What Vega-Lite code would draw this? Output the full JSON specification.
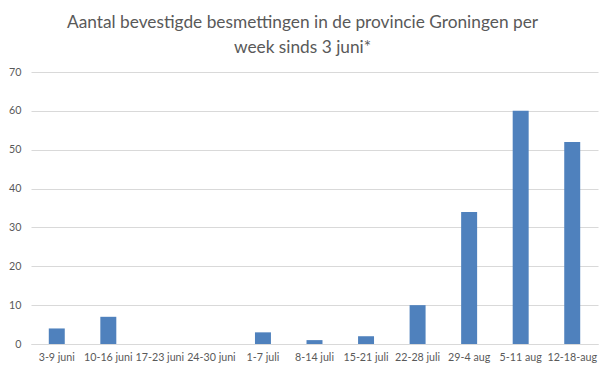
{
  "$schema": "https://vega.github.io/schema/vega-lite/v6.json",
  "width": 567,
  "height": 272,
  "autosize": "none",
  "padding": {"left": 31, "top": 72, "right": 7, "bottom": 32},
  "background": "white",
  "title": {
    "text": ["Aantal bevestigde besmettingen in de provincie Groningen per", "week sinds 3 juni*"],
    "font": "Lato",
    "fontSize": 17.3,
    "fontWeight": "normal",
    "color": "#595959",
    "anchor": "middle",
    "lineHeight": 25,
    "offset": 10,
    "dx": -12
  },
  "config": {
    "view": {"stroke": null},
    "axis": {"labelFont": "Lato", "labelFontSize": 10.7, "labelColor": "#595959", "titleFont": "Lato"}
  },
  "data": {
    "values": [
      {"week": "3-9 juni", "n": 4},
      {"week": "10-16 juni", "n": 7},
      {"week": "17-23 juni", "n": 0},
      {"week": "24-30 juni", "n": 0},
      {"week": "1-7 juli", "n": 3},
      {"week": "8-14 juli", "n": 1},
      {"week": "15-21 juli", "n": 2},
      {"week": "22-28 juli", "n": 10},
      {"week": "29-4 aug", "n": 34},
      {"week": "5-11 aug", "n": 60},
      {"week": "12-18-aug", "n": 52}
    ]
  },
  "mark": {"type": "bar", "color": "#4f81bd"},
  "encoding": {
    "x": {
      "field": "week",
      "type": "nominal",
      "sort": null,
      "title": null,
      "scale": {"paddingInner": 0.69, "paddingOuter": 0.345},
      "axis": {"labelAngle": 0, "labelOverlap": false, "labelLimit": 0, "ticks": false, "domainColor": "#d9d9d9", "labelPadding": 8}
    },
    "y": {
      "field": "n",
      "type": "quantitative",
      "title": null,
      "scale": {"domain": [0, 70]},
      "axis": {"values": [0, 10, 20, 30, 40, 50, 60, 70], "domain": false, "ticks": false, "gridColor": "#d9d9d9", "labelPadding": 10}
    }
  }
}
